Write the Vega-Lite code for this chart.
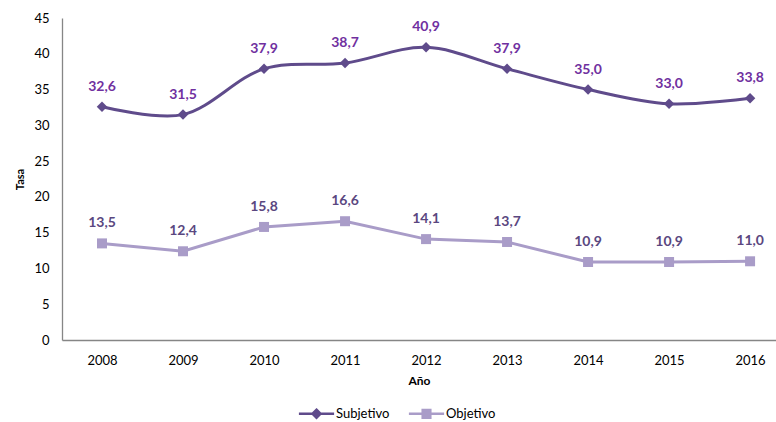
{
  "$schema": "https://vega.github.io/schema/vega-lite/v6.json",
  "width": 714,
  "height": 322,
  "autosize": {"type": "none"},
  "padding": {"left": 62, "top": 18, "right": 0, "bottom": 82},
  "config": {
    "font": "Lato",
    "view": {"stroke": null},
    "locale": {"number": {"decimal": ",", "thousands": ".", "grouping": [3], "currency": ["", " €"]}}
  },
  "data": {
    "values": [
      {"year": 2008, "serie": "Subjetivo", "value": 32.6},
      {"year": 2009, "serie": "Subjetivo", "value": 31.5},
      {"year": 2010, "serie": "Subjetivo", "value": 37.9},
      {"year": 2011, "serie": "Subjetivo", "value": 38.7},
      {"year": 2012, "serie": "Subjetivo", "value": 40.9},
      {"year": 2013, "serie": "Subjetivo", "value": 37.9},
      {"year": 2014, "serie": "Subjetivo", "value": 35.0},
      {"year": 2015, "serie": "Subjetivo", "value": 33.0},
      {"year": 2016, "serie": "Subjetivo", "value": 33.8},
      {"year": 2008, "serie": "Objetivo", "value": 13.5},
      {"year": 2009, "serie": "Objetivo", "value": 12.4},
      {"year": 2010, "serie": "Objetivo", "value": 15.8},
      {"year": 2011, "serie": "Objetivo", "value": 16.6},
      {"year": 2012, "serie": "Objetivo", "value": 14.1},
      {"year": 2013, "serie": "Objetivo", "value": 13.7},
      {"year": 2014, "serie": "Objetivo", "value": 10.9},
      {"year": 2015, "serie": "Objetivo", "value": 10.9},
      {"year": 2016, "serie": "Objetivo", "value": 11.0}
    ]
  },
  "encoding": {
    "x": {
      "field": "year", "type": "quantitative",
      "scale": {"domain": [2007.506, 2016.32], "nice": false, "zero": false},
      "axis": {
        "title": "Año", "titleFontSize": 12, "titleFontWeight": "bold", "titleColor": "#000000", "titlePadding": 8,
        "values": [2008, 2009, 2010, 2011, 2012, 2013, 2014, 2015, 2016],
        "format": "d", "labelFontSize": 13, "labelColor": "#000000", "labelPadding": 14,
        "ticks": false, "grid": false, "domainColor": "#868686", "domainWidth": 1.3, "labelFlush": false
      }
    },
    "y": {
      "field": "value", "type": "quantitative",
      "scale": {"domain": [0, 45], "nice": false},
      "axis": {
        "title": "Tasa", "titleFontSize": 11, "titleFontWeight": "bold", "titleColor": "#000000", "titlePadding": 8,
        "values": [0, 5, 10, 15, 20, 25, 30, 35, 40, 45],
        "labelFontSize": 13, "labelColor": "#000000", "labelPadding": 13,
        "ticks": false, "grid": false, "domainColor": "#868686", "domainWidth": 1.3
      }
    }
  },
  "layer": [
    {
      "transform": [{"filter": "datum.serie == 'Subjetivo'"}],
      "mark": {"type": "line", "interpolate": "catmull-rom", "strokeWidth": 3, "color": "#5F4B8B"}
    },
    {
      "transform": [{"filter": "datum.serie == 'Objetivo'"}],
      "mark": {"type": "line", "strokeWidth": 3, "color": "#A99CC8"}
    },
    {
      "transform": [{"filter": "datum.serie == 'Subjetivo'"}],
      "mark": {"type": "point", "shape": "diamond", "size": 110, "filled": true, "opacity": 1, "color": "#5F4B8B"}
    },
    {
      "transform": [{"filter": "datum.serie == 'Objetivo'"}],
      "mark": {"type": "point", "shape": "square", "size": 100, "filled": true, "opacity": 1, "color": "#A99CC8"}
    },
    {
      "mark": {"type": "point", "filled": true, "opacity": 0},
      "encoding": {
        "color": {
          "field": "serie", "type": "nominal",
          "scale": {"domain": ["Subjetivo", "Objetivo"], "range": ["#5F4B8B", "#A99CC8"]},
          "legend": {
            "title": null, "orient": "none", "direction": "horizontal",
            "legendX": 248, "legendY": 389,
            "labelFontSize": 13, "labelColor": "#000000", "labelOffset": 13,
            "symbolSize": 64, "columnPadding": 13,
            "encode": {
              "symbols": {
                "update": {
                  "shape": {"signal": "datum.value == 'Subjetivo' ? 'M-4.4,0H4.4M0,-1L1,0L0,1L-1,0Z' : 'M-4.4,0H4.4M-0.95,-0.95H0.95V0.95H-0.95Z'"},
                  "stroke": {"signal": "datum.value == 'Subjetivo' ? '#5F4B8B' : '#A99CC8'"},
                  "strokeWidth": {"value": 2.5},
                  "opacity": {"value": 1}
                }
              }
            }
          }
        }
      }
    },
    {
      "mark": {"type": "text", "dy": -20, "fontSize": 14, "fontWeight": "bold", "baseline": "middle"},
      "encoding": {
        "text": {"field": "value", "type": "quantitative", "format": ".1f"},
        "color": {
          "condition": {"test": "datum.serie == 'Subjetivo'", "value": "#7030A0"},
          "value": "#5A4780"
        }
      }
    }
  ]
}
